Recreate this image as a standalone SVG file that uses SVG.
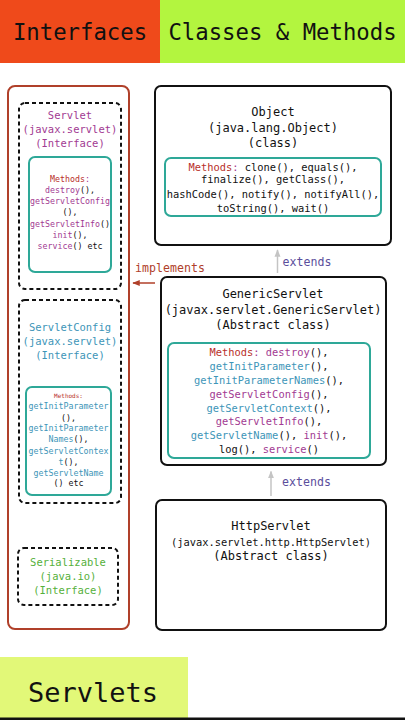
<svg xmlns="http://www.w3.org/2000/svg" width="405" height="720" viewBox="0 0 405 720">
<defs>
<style>
text{font-family:"DejaVu Sans Mono","Liberation Mono",monospace;text-anchor:middle;fill:#111}
.hdr{font-size:22.3px}
.lt{font-size:10.5px}
.lm{font-size:8.3px}
.rt{font-size:12px}
.rm{font-size:10.4px}
.lbl{font-size:11.6px}
.p{fill:#a23a92}
.b{fill:#3d95b8}
.g{fill:#55b03a}
.r{fill:#b8302a}
.k{fill:#111}
.dash{fill:none;stroke:#111;stroke-width:2;stroke-dasharray:4 3}
.teal{fill:none;stroke:#2ea898;stroke-width:2}
.cls{fill:#fff;stroke:#111;stroke-width:2}
</style>
<marker id="ahG" viewBox="0 0 10 10" refX="9" refY="5" markerWidth="5" markerHeight="5" orient="auto"><path d="M0,1 L10,5 L0,9 z" fill="#c4c4c4"/></marker>
<marker id="ahR" viewBox="0 0 10 10" refX="9" refY="5" markerWidth="5" markerHeight="5" orient="auto"><path d="M0,1 L10,5 L0,9 z" fill="#b0402a"/></marker>
</defs>
<rect width="405" height="720" fill="#fff"/>
<g id="header">
<rect x="0" y="0" width="160" height="63" fill="#ef4a1b"/>
<rect x="160" y="0" width="245" height="63" fill="#b3f53f"/>
<text class="hdr" x="80" y="39.5">Interfaces</text>
<text class="hdr" x="282.5" y="39.5">Classes &amp; Methods</text>
</g>
<g id="footer">
<rect x="0" y="657" width="188" height="61" fill="#e2f878"/>
<rect x="0" y="717.5" width="405" height="2.5" fill="#111"/>
<text x="93" y="701.5" style="font-size:27px">Servlets</text>
</g>
<g id="interfaces">
<rect x="8" y="86" width="121" height="543" rx="7" fill="none" stroke="#b0402a" stroke-width="2"/>
</g>
<g id="servlet">
<rect class="dash" x="19" y="103" width="102" height="186" rx="6"/>
<text class="lt" y="119"><tspan class="p" x="70">Servlet</tspan><tspan class="p" x="70" dy="14">(javax.servlet)</tspan><tspan class="p" x="70" dy="14">(Interface)</tspan></text>
<rect class="teal" x="29" y="157" width="82" height="115" rx="6"/>
<text class="lm" x="70" y="182"><tspan class="r">Methods</tspan><tspan class="p">:</tspan></text>
<text class="lm" x="70" y="193"><tspan class="p">destroy</tspan>(),</text>
<text class="lm p" x="70" y="204">getServletConfig</text>
<text class="lm" x="70" y="215">(),</text>
<text class="lm" x="70" y="227"><tspan class="p">getServletInfo</tspan>()</text>
<text class="lm" x="70" y="238"><tspan class="p">init</tspan>(),</text>
<text class="lm" x="70" y="249"><tspan class="p">service</tspan>() etc</text>
</g>
<g id="servletconfig">
<rect class="dash" x="19" y="300" width="102" height="203" rx="6"/>
<text class="lt" y="330.5"><tspan class="b" x="70">ServletConfig</tspan><tspan class="b" x="70" dy="14.5">(javax.servlet)</tspan><tspan class="b" x="70" dy="13.5">(Interface)</tspan></text>
<rect class="teal" x="26" y="387" width="85" height="108" rx="6"/>
<text x="68.5" y="398" style="font-size:6px" class="r">Methods:</text>
<text class="lm b" x="68.5" y="409">getInitParameter</text>
<text class="lm" x="68.5" y="420.5">(),</text>
<text class="lm b" x="68.5" y="430.5">getInitParameter</text>
<text class="lm" x="68.5" y="442"><tspan class="b">Names</tspan>(),</text>
<text class="lm b" x="68.5" y="453.5">getServletContex</text>
<text class="lm" x="68.5" y="464.5"><tspan class="b">t</tspan>(),</text>
<text class="lm b" x="68.5" y="475.5">getServletName</text>
<text class="lm" x="68.5" y="486">() etc</text>
</g>
<g id="serializable">
<rect class="dash" x="18" y="548" width="100" height="57" rx="6"/>
<text class="lt" y="565.5"><tspan class="g" x="68">Serializable</tspan><tspan class="g" x="68" dy="14.5">(java.io)</tspan><tspan class="g" x="68" dy="13.5">(Interface)</tspan></text>
</g>
<g id="object">
<rect class="cls" x="155" y="86" width="236" height="159" rx="6"/>
<text class="rt" y="116"><tspan x="273">Object</tspan><tspan x="273" dy="15.7">(java.lang.Object)</tspan><tspan x="273" dy="15.6">(class)</tspan></text>
<rect class="teal" x="165" y="158" width="216" height="58" rx="6"/>
<text class="rm" x="273" y="170.5"><tspan class="r">Methods</tspan><tspan class="p">:</tspan> clone(), equals(),</text>
<text class="rm" x="273" y="183">finalize(), getClass(),</text>
<text class="rm" x="273" y="197.5">hashCode(), notify(), notifyAll(),</text>
<text class="rm" x="273" y="211.5">toString(), wait()</text>
</g>
<g id="genericservlet">
<rect class="cls" x="161" y="277" width="225" height="188" rx="6"/>
<text class="rt" y="297.5"><tspan x="273">GenericServlet</tspan><tspan x="273" dy="16">(javax.servlet.GenericServlet)</tspan><tspan x="273" dy="15.7">(Abstract class)</tspan></text>
<rect class="teal" x="168" y="343" width="202" height="115" rx="6"/>
<text class="rm" x="269" y="356"><tspan class="r">Methods</tspan><tspan class="p">: destroy</tspan>(),</text>
<text class="rm" x="269" y="370"><tspan class="b">getInitParameter</tspan>(),</text>
<text class="rm" x="269" y="384"><tspan class="b">getInitParameterNames</tspan>(),</text>
<text class="rm" x="269" y="397.7"><tspan class="p">getServletConfig</tspan>(),</text>
<text class="rm" x="269" y="411.5"><tspan class="b">getServletContext</tspan>(),</text>
<text class="rm" x="269" y="425.3"><tspan class="p">getServletInfo</tspan>(),</text>
<text class="rm" x="269" y="438.8"><tspan class="b">getServletName</tspan>(), <tspan class="p">init</tspan>(),</text>
<text class="rm" x="269" y="453">log(), <tspan class="p">service</tspan>()</text>
</g>
<g id="httpservlet">
<rect class="cls" x="156" y="500" width="230" height="130" rx="6"/>
<text class="rt" x="271" y="530">HttpServlet</text>
<text class="rm" x="271" y="546">(javax.servlet.http.HttpServlet)</text>
<text class="rt" x="271" y="560">(Abstract class)</text>
</g>
<g id="connectors">
<line x1="277.5" y1="273" x2="277.5" y2="250" stroke="#c4c4c4" stroke-width="1.5" marker-end="url(#ahG)"/>
<text class="lbl" x="307" y="265.5" style="fill:#5b4e9c">extends</text>
<line x1="271" y1="496" x2="271" y2="471.5" stroke="#c4c4c4" stroke-width="1.5" marker-end="url(#ahG)"/>
<text class="lbl" x="306.5" y="485.5" style="fill:#5b4e9c">extends</text>
<line x1="155" y1="283" x2="133" y2="283" stroke="#b0402a" stroke-width="1.5" marker-end="url(#ahR)"/>
<text class="lbl" x="170" y="272" style="fill:#b0402a">implements</text>
</g>
</svg>
